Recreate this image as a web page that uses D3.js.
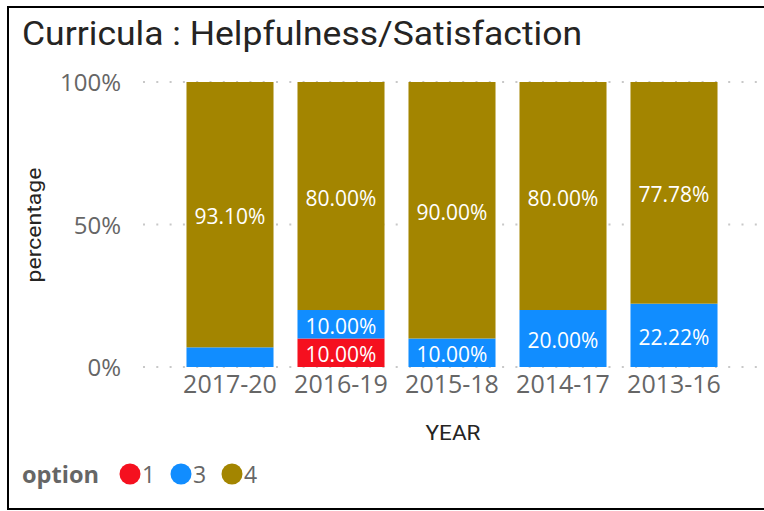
<!DOCTYPE html>
<html><head><meta charset="utf-8">
<script src="https://cdn.jsdelivr.net/npm/d3@7"></script>
<style>
html,body{margin:0;padding:0;background:#fff;}
svg{display:block;}
</style></head>
<body>
<svg id="chart" width="764" height="511"></svg>
<script>
const categories = ["2017-20","2016-19","2015-18","2014-17","2013-16"];
const options = ["1","3","4"];
const option1 = [0, 10.00, 0, 0, 0];
const option3 = [6.90, 10.00, 10.00, 20.00, 22.22];
const option4 = [93.10, 80.00, 90.00, 80.00, 77.78];
const yTicks = [0, 50, 100];
const colors = {"1":"#F5101F","3":"#118DFF","4":"#A38500"};

const svg = d3.select("#chart");
const W = 764, H = 511;
const uiFont = "'Open Sans', 'Noto Sans', sans-serif";
const dinFont = "Roboto, 'DejaVu Sans', sans-serif";

// frame
svg.append("rect").attr("x",8).attr("y",7).attr("width",W).attr("height",502)
  .attr("fill","#fff").attr("stroke","#000").attr("stroke-width",2);

svg.append("text").attr("x",22).attr("y",45)
  .attr("font-family",dinFont).attr("font-size",33)
  .attr("fill","#252423").attr("textLength",560).attr("lengthAdjust","spacingAndGlyphs")
  .text("Curricula : Helpfulness/Satisfaction");

const y = d3.scaleLinear().domain([0,100]).range([367,82]);
const x = d3.scaleBand().domain(categories).range([174.5,729.5]).paddingInner(0.216).paddingOuter(0.108);

// gridlines
svg.append("g").selectAll("line").data(yTicks).join("line")
  .attr("x1",143).attr("x2",W).attr("y1",d=>y(d)).attr("y2",d=>y(d))
  .attr("stroke","#C8C8C8").attr("stroke-width",2).attr("stroke-dasharray","2 11.3");

// y axis labels
const yAxis = d3.axisLeft(y).tickValues(yTicks).tickFormat(d=>d+"%").tickSize(0).tickPadding(0);
const gy = svg.append("g").attr("transform","translate(121,0)").call(yAxis);
gy.select(".domain").remove();
gy.selectAll("text").attr("font-family",uiFont).attr("font-size",24).attr("fill","#666").attr("dy","0.36em");

// x axis labels
const xAxis = d3.axisBottom(x).tickSize(0).tickPadding(0);
const gx = svg.append("g").attr("transform","translate(0,375)").call(xAxis);
gx.select(".domain").remove();
gx.selectAll("text").attr("font-family",uiFont).attr("font-size",25).attr("fill","#666").attr("dy","0.72em");

// stacked data
const rows = categories.map((c,i)=>({cat:c,"1":option1[i],"3":option3[i],"4":option4[i]}));
const stack = d3.stack().keys(options)(rows);

const layers = svg.append("g").selectAll("g").data(stack).join("g").attr("fill",d=>colors[d.key]);
layers.selectAll("rect").data(d=>d.map(v=>({v,key:d.key}))).join("rect")
  .attr("x",d=>x(d.v.data.cat)).attr("width",x.bandwidth())
  .attr("y",d=>y(d.v[1])).attr("height",d=>y(d.v[0])-y(d.v[1]));

// labels
const labG = svg.append("g");
stack.forEach(layer=>{
  layer.forEach(v=>{
    const val = v[1]-v[0];
    const h = y(v[0])-y(v[1]);
    if (val<=0 || h<24) return;
    labG.append("text").attr("x",x(v.data.cat)+x.bandwidth()/2)
      .attr("y",(y(v[0])+y(v[1]))/2+2)
      .attr("text-anchor","middle").attr("dy","0.36em")
      .attr("font-family",uiFont).attr("font-size",21).attr("fill","#fff")
      .text(d3.format(".2f")(val)+"%");
  });
});

// axis titles
svg.append("text").attr("transform","translate(41,225) rotate(-90)")
  .attr("text-anchor","middle").attr("font-family",dinFont).attr("font-size",21)
  .attr("fill","#252423").attr("textLength",115).attr("lengthAdjust","spacingAndGlyphs")
  .text("percentage");
svg.append("text").attr("x",453).attr("y",440)
  .attr("text-anchor","middle").attr("font-family",dinFont).attr("font-size",21)
  .attr("fill","#252423").attr("textLength",55).attr("lengthAdjust","spacingAndGlyphs")
  .text("YEAR");

// legend
const lg = svg.append("g");
lg.append("text").attr("x",22).attr("y",483).attr("font-family",uiFont).attr("font-weight","bold")
  .attr("font-size",23).attr("fill","#666").attr("textLength",77).attr("lengthAdjust","spacingAndGlyphs")
  .text("option");
const lx = [130,181,232];
options.forEach((o,i)=>{
  lg.append("circle").attr("cx",lx[i]).attr("cy",474).attr("r",10.5).attr("fill",colors[o]);
  lg.append("text").attr("x",lx[i]+12).attr("y",483).attr("font-family",uiFont)
    .attr("font-size",23).attr("fill","#666").text(o);
});
</script>
</body></html>
